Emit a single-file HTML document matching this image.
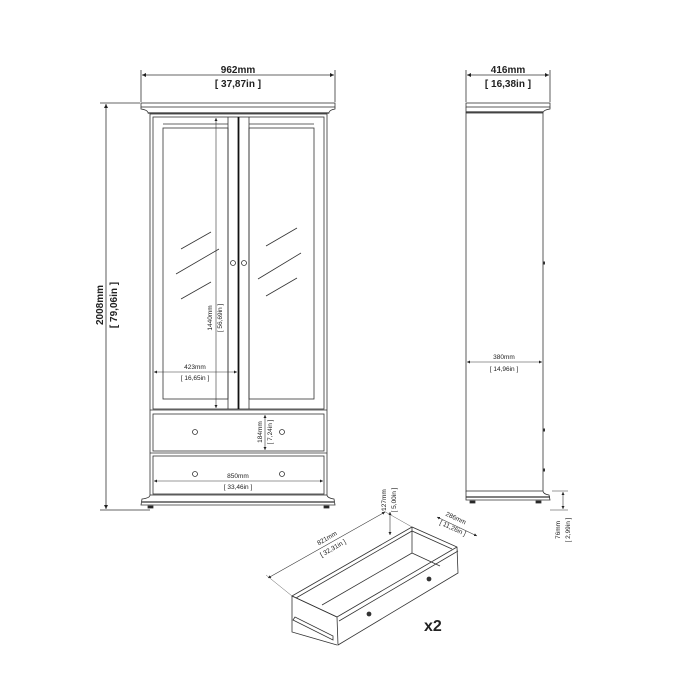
<!DOCTYPE html>
<html><head><meta charset="utf-8"><style>
html,body{margin:0;padding:0;background:#fff}
svg{display:block}
text{font-family:"Liberation Sans",sans-serif;fill:#222}
.b{font-weight:bold;font-size:10px}
.s{font-size:6.5px}
</style></head><body>
<svg width="700" height="700" viewBox="0 0 700 700" xmlns="http://www.w3.org/2000/svg">
<defs>
<marker id="a" viewBox="0 0 6 6" refX="6" refY="3" markerWidth="5" markerHeight="5" orient="auto-start-reverse"><path d="M0,0L6,3L0,6z" fill="#222"/></marker>
</defs>
<g stroke="#333" stroke-width="0.8" fill="none">
<!-- FRONT VIEW -->
<line x1="141" y1="70" x2="141" y2="102"/><line x1="335" y1="70" x2="335" y2="102"/>
<line x1="142" y1="75" x2="334" y2="75" marker-start="url(#a)" marker-end="url(#a)"/>
<rect x="141" y="103" width="194" height="4"/>
<path d="M141,107 L141,109 Q148,110 148,113 L329,113 Q329,110 335,109 L335,107"/>
<line x1="148" y1="113" x2="329" y2="113" stroke-width="1.2"/>
<rect x="150" y="114" width="177" height="381"/>
<rect x="153" y="117" width="171" height="292"/>
<rect x="163" y="128" width="65" height="271"/>
<line x1="163" y1="124" x2="228" y2="124"/>
<line x1="228" y1="117" x2="228" y2="409"/>
<rect x="249" y="128" width="65" height="271"/>
<line x1="249" y1="124" x2="314" y2="124"/>
<line x1="249" y1="117" x2="249" y2="409"/>
<line x1="238.5" y1="117" x2="238.5" y2="409" stroke-width="1.8" stroke="#111"/>
<circle cx="233" cy="263" r="2.5"/><circle cx="244" cy="263" r="2.5"/>
<line x1="181" y1="249" x2="211" y2="232"/><line x1="176" y1="274" x2="219" y2="249"/><line x1="181" y1="299" x2="211" y2="282"/>
<line x1="266" y1="246" x2="297" y2="228"/><line x1="258" y1="279" x2="301" y2="253"/><line x1="266" y1="296" x2="297" y2="278"/>
<line x1="150" y1="410" x2="327" y2="410"/>
<rect x="153" y="414" width="171" height="37"/>
<line x1="150" y1="453" x2="327" y2="453"/>
<rect x="153" y="456" width="171" height="38"/>
<circle cx="195" cy="432" r="2.5"/><circle cx="282" cy="432" r="2.5"/>
<circle cx="195" cy="474" r="2.5"/><circle cx="282" cy="474" r="2.5"/>
<path d="M150,495 Q150,498 142,499 L141,505 L335,505 L334,499 Q327,498 327,495"/>
<line x1="142" y1="502" x2="334" y2="502" stroke-width="1.2"/>
<rect x="148" y="506" width="5" height="2" fill="#222"/><rect x="324" y="506" width="5" height="2" fill="#222"/>
<!-- height -->
<line x1="100" y1="103" x2="140" y2="103"/><line x1="100" y1="510" x2="150" y2="510"/>
<line x1="106" y1="104" x2="106" y2="509" marker-start="url(#a)" marker-end="url(#a)"/>
<!-- 1440 -->
<line x1="216" y1="118" x2="216" y2="408" marker-start="url(#a)" marker-end="url(#a)" stroke-width="0.6"/>
<!-- 423 -->
<line x1="154" y1="372" x2="237" y2="372" marker-start="url(#a)" marker-end="url(#a)" stroke-width="0.6"/>
<!-- 184 -->
<line x1="265" y1="415" x2="265" y2="450" marker-start="url(#a)" marker-end="url(#a)" stroke-width="0.6"/>
<!-- 850 -->
<line x1="154" y1="481" x2="323" y2="481" marker-start="url(#a)" marker-end="url(#a)" stroke-width="0.6"/>

<!-- SIDE VIEW -->
<line x1="466" y1="70" x2="466" y2="102"/><line x1="550" y1="70" x2="550" y2="102"/>
<line x1="467" y1="75" x2="549" y2="75" marker-start="url(#a)" marker-end="url(#a)"/>
<rect x="466" y="103" width="84" height="4"/>
<path d="M550,107 L550,109 Q543,110 543,113"/>
<line x1="466" y1="107" x2="466" y2="113"/>
<line x1="466" y1="112" x2="543" y2="112" stroke-width="1.2"/>
<rect x="466" y="113" width="77" height="378"/>
<path d="M543,491 Q543,494 549,495 L550,500 L466,500 L466,491"/>
<line x1="466" y1="497" x2="550" y2="497" stroke-width="1.2"/>
<rect x="470" y="501" width="5" height="2" fill="#222"/><rect x="536" y="501" width="5" height="2" fill="#222"/>
<line x1="543" y1="263" x2="545" y2="263" stroke-width="3"/>
<line x1="543" y1="430" x2="545" y2="430" stroke-width="3"/>
<line x1="543" y1="470" x2="545" y2="470" stroke-width="3"/>
<line x1="467" y1="362" x2="542" y2="362" marker-start="url(#a)" marker-end="url(#a)" stroke-width="0.6"/>
<line x1="552" y1="491" x2="568" y2="491" stroke-width="0.5"/>
<line x1="563" y1="492" x2="563" y2="509" marker-start="url(#a)" marker-end="url(#a)" stroke-width="0.6"/>
<line x1="550" y1="510" x2="568" y2="510" stroke-width="0.5"/>

<!-- DRAWER -->
<path d="M292,596 L412,527 L457,547 L458,573 L338,645 L337,617 Z"/>
<line x1="292" y1="596" x2="337" y2="617"/>
<line x1="337" y1="617" x2="457" y2="547"/>
<line x1="339" y1="621" x2="458" y2="551"/>
<path d="M296,598 L412,531 L452,549"/>
<line x1="412" y1="527" x2="412" y2="553"/>
<line x1="412" y1="553" x2="322" y2="605"/>
<line x1="412" y1="553" x2="440" y2="566"/>
<path d="M292,596 L292,632 L337,645"/>
<path d="M293,620 L333,640 L333,636 L295,617 Z"/>
<circle cx="369" cy="614" r="2" fill="#333"/><circle cx="429" cy="579" r="2" fill="#333"/>
<line x1="268" y1="578" x2="385" y2="512" marker-start="url(#a)" marker-end="url(#a)" stroke-width="0.6"/>
<line x1="266" y1="575" x2="292" y2="596" stroke-width="0.4"/>
<line x1="382" y1="510" x2="412" y2="527" stroke-width="0.4"/>
<line x1="390" y1="512" x2="390" y2="535" marker-start="url(#a)" marker-end="url(#a)" stroke-width="0.6"/>
<line x1="437" y1="517" x2="477" y2="536" marker-start="url(#a)" marker-end="url(#a)" stroke-width="0.6"/>
</g>
<!-- TEXT -->
<text x="238" y="73" class="b" text-anchor="middle">962mm</text>
<text x="238" y="87" class="b" text-anchor="middle">[ 37,87in ]</text>
<text x="508" y="73" class="b" text-anchor="middle">416mm</text>
<text x="508" y="87" class="b" text-anchor="middle">[ 16,38in ]</text>
<text transform="translate(103,305) rotate(-90)" class="b" text-anchor="middle">2008mm</text>
<text transform="translate(117,305) rotate(-90)" class="b" text-anchor="middle">[ 79,06in ]</text>
<text transform="translate(212,318) rotate(-90)" class="s" text-anchor="middle">1440mm</text>
<text transform="translate(222,318) rotate(-90)" class="s" text-anchor="middle">[ 56,69in ]</text>
<text x="195" y="369" class="s" text-anchor="middle">423mm</text>
<text x="195" y="380" class="s" text-anchor="middle">[ 16,65in ]</text>
<text transform="translate(262,432) rotate(-90)" class="s" text-anchor="middle">184mm</text>
<text transform="translate(272,432) rotate(-90)" class="s" text-anchor="middle">[ 7,24in ]</text>
<text x="238" y="478" class="s" text-anchor="middle">850mm</text>
<text x="238" y="489" class="s" text-anchor="middle">[ 33,46in ]</text>
<text x="504" y="359" class="s" text-anchor="middle">380mm</text>
<text x="504" y="371" class="s" text-anchor="middle">[ 14,96in ]</text>
<text transform="translate(560,530) rotate(-90)" class="s" text-anchor="middle">76mm</text>
<text transform="translate(570,530) rotate(-90)" class="s" text-anchor="middle">[ 2,99in ]</text>
<text transform="translate(386,500) rotate(-90)" class="s" text-anchor="middle">127mm</text>
<text transform="translate(396,500) rotate(-90)" class="s" text-anchor="middle">[ 5,00in ]</text>
<text transform="translate(328,540) rotate(-30)" class="s" text-anchor="middle">821mm</text>
<text transform="translate(334,550) rotate(-30)" class="s" text-anchor="middle">[ 32,31in ]</text>
<text transform="translate(455,520) rotate(25)" class="s" text-anchor="middle">286mm</text>
<text transform="translate(452,530) rotate(25)" class="s" text-anchor="middle">[ 11,26in ]</text>
<text x="424" y="631" font-size="16" font-weight="bold" style="font-family:'Liberation Sans',sans-serif">x2</text>
</svg>
</body></html>
